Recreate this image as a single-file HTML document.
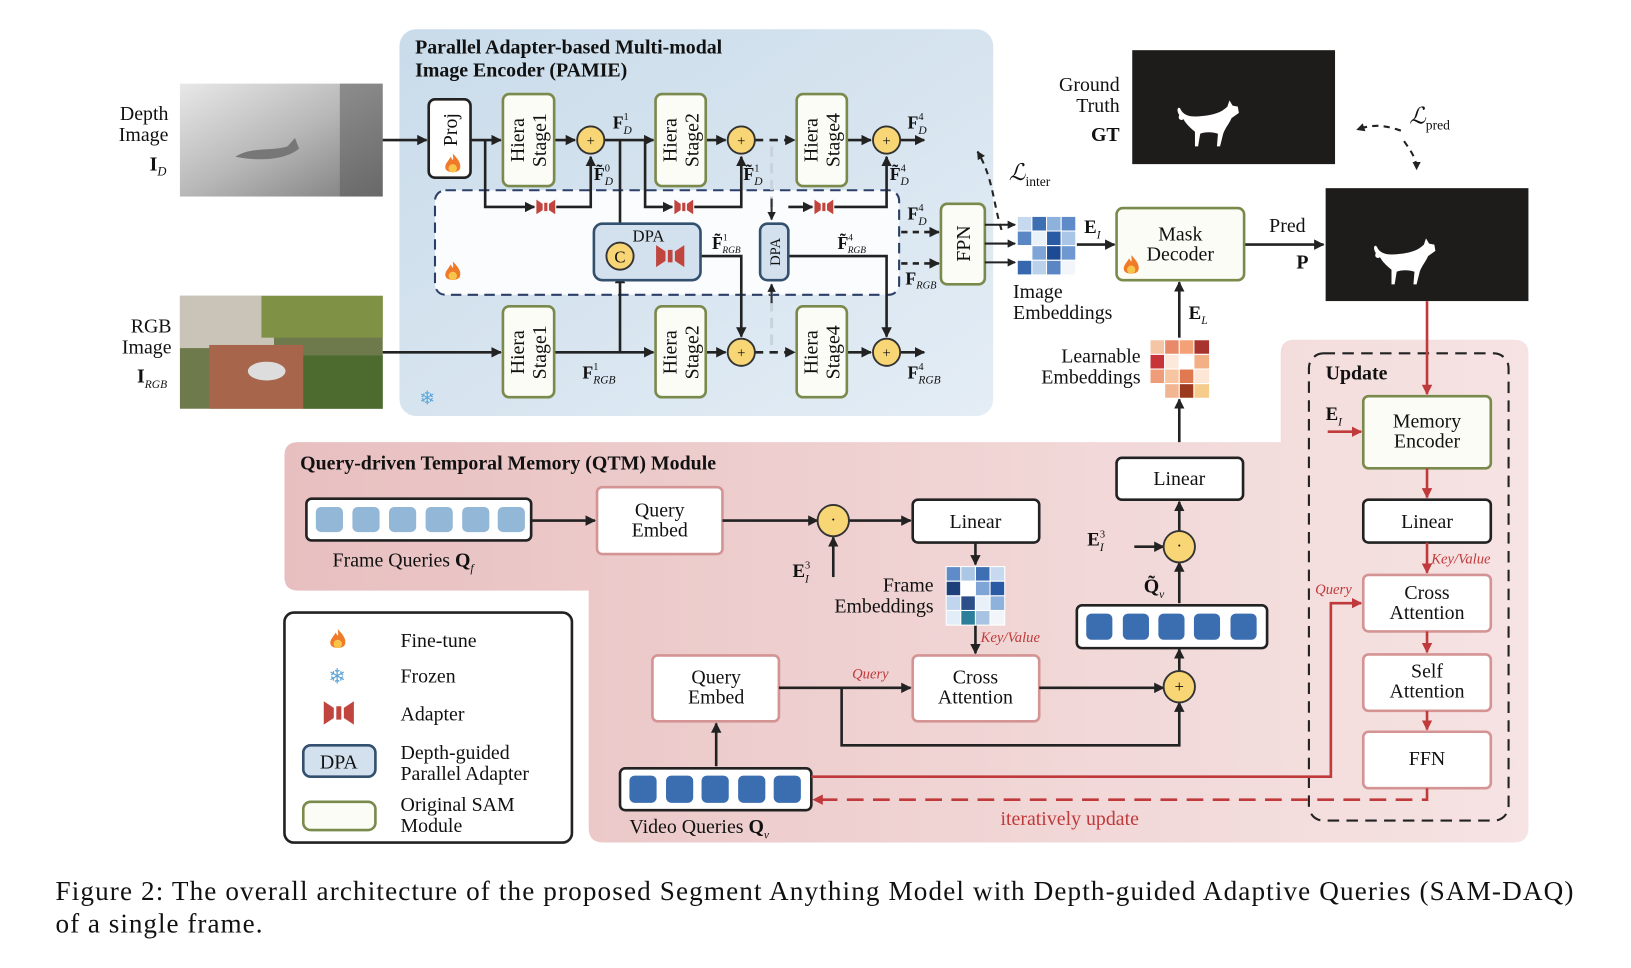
<!DOCTYPE html>
<html><head><meta charset="utf-8"><style>
html,body{margin:0;padding:0;background:#fff;width:1631px;height:968px;overflow:hidden}
svg{display:block}
text{font-family:"Liberation Serif",serif;fill:#111}
.b{font-weight:bold}
</style></head><body>
<svg width="1631" height="968" viewBox="0 0 1560 926" xmlns="http://www.w3.org/2000/svg">
<defs>
<marker id="a" viewBox="0 0 10 10" refX="9" refY="5" markerWidth="4" markerHeight="4" orient="auto"><path d="M0,0L10,5L0,10z" fill="#222"/></marker>
<marker id="r" viewBox="0 0 10 10" refX="9" refY="5" markerWidth="4" markerHeight="4" orient="auto"><path d="M0,0L10,5L0,10z" fill="#c0393b"/></marker>
<linearGradient id="blue" x1="0" y1="0" x2="1" y2="1"><stop offset="0" stop-color="#c9dbea"/><stop offset="1" stop-color="#e4edf5"/></linearGradient>
<linearGradient id="pink" x1="0" y1="0" x2="1" y2="0"><stop offset="0" stop-color="#e8bfc0"/><stop offset="0.6" stop-color="#f1d6d6"/><stop offset="1" stop-color="#f6e3e3"/></linearGradient>
<linearGradient id="dep" x1="0" y1="0" x2="1" y2="1"><stop offset="0" stop-color="#e8e8e8"/><stop offset="0.5" stop-color="#b8b8b8"/><stop offset="1" stop-color="#7a7a7a"/></linearGradient>
<g id="ad"><path d="M-9,-7 L-3,-3 L-3,3 L-9,7Z M9,-7 L3,-3 L3,3 L9,7Z M-1.5,-4h3v8h-3z" fill="#c0453f"/></g>
<g id="fl"><path d="M0,-10 C6,-4 8,0 7,4 C6,9 -6,9 -7,4 C-8,0 -4,-3 -2,-7 C0,-3 1,-2 0,-10Z" fill="#ef7b2a"/><ellipse cx="0" cy="4" rx="4" ry="4" fill="#f9c44a"/></g>
<g id="cat"><path d="M-30,-8 C-34,-14 -30,-18 -28,-12 C-24,-6 -16,-6 -8,-7 C2,-8 10,-10 16,-16 L18,-22 21,-17 26,-16 27,-10 20,-5 C18,0 14,4 12,10 L9,22 6,22 7,10 C2,8 -6,8 -10,10 L-12,22 -15,22 -15,8 C-20,4 -24,0 -26,-4 C-28,-2 -32,-4 -30,-8Z" fill="#fff"/></g>
</defs>

<!-- PAMIE panel -->
<rect x="382" y="28" width="568" height="370" rx="16" fill="url(#blue)"/>
<text class="b" x="397" y="51" font-size="19">Parallel Adapter-based Multi-modal</text>
<text class="b" x="397" y="73" font-size="19">Image Encoder (PAMIE)</text>
<rect x="416" y="182" width="444" height="100" rx="10" fill="#fbfcfe" stroke="#2c3f68" stroke-width="2" stroke-dasharray="10,6"/>

<!-- images -->
<rect x="172" y="80" width="194" height="108" fill="url(#dep)"/>
<rect x="325" y="80" width="41" height="108" fill="#555" opacity="0.5"/>
<path d="M225,150 C240,140 260,145 275,140 L282,132 286,142 C275,152 250,155 225,150Z" fill="#777"/>
<rect x="172" y="283" width="194" height="108" fill="#6f7a4c"/>
<rect x="172" y="283" width="90" height="50" fill="#c9c3b8"/>
<rect x="250" y="283" width="116" height="40" fill="#7f9145"/>
<rect x="200" y="330" width="90" height="61" fill="#a7664b"/>
<rect x="290" y="340" width="76" height="51" fill="#4d6b2f"/>
<ellipse cx="255" cy="355" rx="18" ry="9" fill="#ddd"/>
<text x="161" y="115" font-size="19" text-anchor="end">Depth</text>
<text x="161" y="135" font-size="19" text-anchor="end">Image</text>
<text class="b" x="143" y="163" font-size="19">I<tspan font-size="12" font-style="italic" font-weight="normal" dy="5">D</tspan></text>
<text x="164" y="318" font-size="19" text-anchor="end">RGB</text>
<text x="164" y="338" font-size="19" text-anchor="end">Image</text>
<text class="b" x="131" y="366" font-size="19">I<tspan font-size="11" font-style="italic" font-weight="normal" dy="5">RGB</tspan></text>

<!-- lines PAMIE -->
<g stroke="#222" stroke-width="2.5" fill="none">
<path d="M366,134H408" marker-end="url(#a)"/>
<path d="M450,134H479" marker-end="url(#a)"/>
<path d="M530,134H550" marker-end="url(#a)"/>
<path d="M578,134H625" marker-end="url(#a)"/>
<path d="M675,134H694" marker-end="url(#a)"/>
<path d="M722,134H760" stroke-dasharray="8,6" marker-end="url(#a)"/>
<path d="M810,134H833" marker-end="url(#a)"/>
<path d="M861,134H884" marker-end="url(#a)"/>
<path d="M464,134V198H511" marker-end="url(#a)"/>
<path d="M532,198H565V150" marker-end="url(#a)"/>
<path d="M617,134V198H643" marker-end="url(#a)"/>
<path d="M664,198H709V150" marker-end="url(#a)"/>
<path d="M754,198H777" marker-end="url(#a)"/>
<path d="M798,198H848V150" marker-end="url(#a)"/>
<path d="M593,134V229" marker-end="url(#a)"/>
<path d="M366,337H479" marker-end="url(#a)"/>
<path d="M530,337H625" marker-end="url(#a)"/>
<path d="M593,337V262" marker-end="url(#a)"/>
<path d="M606,245H624" marker-end="url(#a)"/>
<path d="M658,245H709V322" marker-end="url(#a)"/>
<path d="M754,245H848V322" marker-end="url(#a)"/>
<path d="M675,337H694" marker-end="url(#a)"/>
<path d="M722,337H760" stroke-dasharray="8,6" marker-end="url(#a)"/>
<path d="M810,337H833" marker-end="url(#a)"/>
<path d="M861,337H884" marker-end="url(#a)"/>
<path d="M862,222H898" stroke-dasharray="6,5" marker-end="url(#a)"/>
<path d="M862,252H898" stroke-dasharray="6,5" marker-end="url(#a)"/>
</g>
<g stroke="#c9d3dc" stroke-width="3" stroke-dasharray="10,6" fill="none"><path d="M738,140V210"/><path d="M738,272V330"/></g>
<path d="M738,190V210" stroke="#333" stroke-width="2" marker-end="url(#a)"/>
<path d="M738,290V272" stroke="#333" stroke-width="2" marker-end="url(#a)"/>

<!-- boxes PAMIE -->
<rect x="410" y="95" width="40" height="75" rx="6" fill="#fff" stroke="#222" stroke-width="2.5"/>
<text transform="rotate(-90 430 124)" x="430" y="131" font-size="19" text-anchor="middle">Proj</text>
<use href="#fl" x="433" y="157"/>
<g fill="#fbfcf6" stroke="#7a8a4c" stroke-width="2.5">
<rect x="481" y="90" width="49" height="88" rx="6"/><rect x="627" y="90" width="48" height="88" rx="6"/><rect x="762" y="90" width="48" height="88" rx="6"/>
<rect x="481" y="293" width="49" height="87" rx="6"/><rect x="627" y="293" width="48" height="87" rx="6"/><rect x="762" y="293" width="48" height="87" rx="6"/>
<rect x="900" y="195" width="42" height="77" rx="6"/>
</g>
<g font-size="19" text-anchor="middle">
<text transform="rotate(-90 505 134)" x="505" y="130">Hiera<tspan x="505" dy="21">Stage1</tspan></text>
<text transform="rotate(-90 651 134)" x="651" y="130">Hiera<tspan x="651" dy="21">Stage2</tspan></text>
<text transform="rotate(-90 786 134)" x="786" y="130">Hiera<tspan x="786" dy="21">Stage4</tspan></text>
<text transform="rotate(-90 505 337)" x="505" y="333">Hiera<tspan x="505" dy="21">Stage1</tspan></text>
<text transform="rotate(-90 651 337)" x="651" y="333">Hiera<tspan x="651" dy="21">Stage2</tspan></text>
<text transform="rotate(-90 786 337)" x="786" y="333">Hiera<tspan x="786" dy="21">Stage4</tspan></text>
<text transform="rotate(-90 921 233)" x="921" y="240">FPN</text>
</g>
<rect x="568" y="214" width="102" height="54" rx="8" fill="#d3e1ee" stroke="#34506f" stroke-width="2.5"/>
<text x="605" y="231" font-size="16">DPA</text>
<rect x="727" y="214" width="27" height="54" rx="7" fill="#d3e1ee" stroke="#34506f" stroke-width="2.5"/>
<text transform="rotate(-90 741 241)" x="741" y="246" font-size="14" text-anchor="middle">DPA</text>
<use href="#ad" x="522" y="198"/><use href="#ad" x="654" y="198"/><use href="#ad" x="788" y="198"/>
<use href="#ad" transform="translate(641 245) scale(1.5)"/>
<g fill="#f8d675" stroke="#333" stroke-width="1.8">
<circle cx="565" cy="134" r="13"/><circle cx="709" cy="134" r="13"/><circle cx="848" cy="134" r="13"/>
<circle cx="709" cy="337" r="13"/><circle cx="848" cy="337" r="13"/><circle cx="593" cy="245" r="13"/>
</g>
<g font-size="14" text-anchor="middle"><text x="565" y="139">+</text><text x="709" y="139">+</text><text x="848" y="139">+</text><text x="709" y="342">+</text><text x="848" y="342">+</text><text x="593" y="251" font-size="16">C</text></g>
<use href="#fl" x="433" y="260"/>
<text x="401" y="387" font-size="18" style="fill:#5ea6d8">❄</text>
<!-- F labels -->
<g font-size="17" class="b">
<text x="586" y="123">F<tspan font-size="10" dy="-8" font-weight="normal">1</tspan><tspan font-size="11" font-style="italic" font-weight="normal" dx="-5" dy="13">D</tspan></text>
<text x="868" y="123">F<tspan font-size="10" dy="-8" font-weight="normal">4</tspan><tspan font-size="11" font-style="italic" font-weight="normal" dx="-5" dy="13">D</tspan></text>
<text x="568" y="172">F̃<tspan font-size="10" dy="-8" font-weight="normal">0</tspan><tspan font-size="11" font-style="italic" font-weight="normal" dx="-5" dy="13">D</tspan></text>
<text x="711" y="172">F̃<tspan font-size="10" dy="-8" font-weight="normal">1</tspan><tspan font-size="11" font-style="italic" font-weight="normal" dx="-5" dy="13">D</tspan></text>
<text x="851" y="172">F̃<tspan font-size="10" dy="-8" font-weight="normal">4</tspan><tspan font-size="11" font-style="italic" font-weight="normal" dx="-5" dy="13">D</tspan></text>
<text x="868" y="210">F<tspan font-size="10" dy="-8" font-weight="normal">4</tspan><tspan font-size="11" font-style="italic" font-weight="normal" dx="-5" dy="13">D</tspan></text>
<text x="866" y="272">F<tspan font-size="10" font-style="italic" font-weight="normal" dy="4">RGB</tspan></text>
<text x="681" y="238">F̃<tspan font-size="9" dy="-8" font-weight="normal">1</tspan><tspan font-size="9" font-style="italic" font-weight="normal" dx="-5" dy="12">RGB</tspan></text>
<text x="801" y="238">F̃<tspan font-size="9" dy="-8" font-weight="normal">4</tspan><tspan font-size="9" font-style="italic" font-weight="normal" dx="-5" dy="12">RGB</tspan></text>
<text x="557" y="362">F<tspan font-size="10" dy="-8" font-weight="normal">1</tspan><tspan font-size="11" font-style="italic" font-weight="normal" dx="-5" dy="13">RGB</tspan></text>
<text x="868" y="362">F<tspan font-size="10" dy="-8" font-weight="normal">4</tspan><tspan font-size="11" font-style="italic" font-weight="normal" dx="-5" dy="13">RGB</tspan></text>
</g>

<!-- L_inter, GT, Pred -->
<path d="M958,220 C950,195 950,170 935,145" stroke="#222" stroke-width="2" stroke-dasharray="6,5" fill="none" marker-end="url(#a)"/>
<text x="965" y="172" font-size="22" font-style="italic">ℒ<tspan font-size="13" font-style="normal" dy="6">inter</tspan></text>
<rect x="1083" y="48" width="194" height="109" fill="#1e1b1b"/>
<use href="#cat" x="1158" y="118"/>
<text x="1071" y="87" font-size="19" text-anchor="end">Ground</text>
<text x="1071" y="107" font-size="19" text-anchor="end">Truth</text>
<text class="b" x="1071" y="135" font-size="19" text-anchor="end">GT</text>
<rect x="1268" y="180" width="194" height="108" fill="#1e1b1b"/>
<use href="#cat" x="1346" y="250"/>
<path d="M1340,125 C1320,118 1310,120 1298,124" stroke="#222" stroke-width="2" stroke-dasharray="6,5" fill="none" marker-end="url(#a)"/>
<path d="M1343,135 C1350,145 1355,152 1355,162" stroke="#222" stroke-width="2" stroke-dasharray="6,5" fill="none" marker-end="url(#a)"/>
<text x="1348" y="118" font-size="22" font-style="italic">ℒ<tspan font-size="13" font-style="normal" dy="6">pred</tspan></text>

<!-- Image embeddings -->
<g stroke="#fff" stroke-width="1">
<rect x="973" y="207" width="14" height="14" fill="#c6d9ee"/><rect x="987" y="207" width="14" height="14" fill="#3e6fb3"/><rect x="1001" y="207" width="14" height="14" fill="#8db2dc"/><rect x="1015" y="207" width="14" height="14" fill="#5f8cc8"/>
<rect x="973" y="221" width="14" height="14" fill="#5b88c4"/><rect x="987" y="221" width="14" height="14" fill="#e9f1f9"/><rect x="1001" y="221" width="14" height="14" fill="#2a5aa3"/><rect x="1015" y="221" width="14" height="14" fill="#a9c6e6"/>
<rect x="973" y="235" width="14" height="14" fill="#fff"/><rect x="987" y="235" width="14" height="14" fill="#7ea5d6"/><rect x="1001" y="235" width="14" height="14" fill="#1d4a94"/><rect x="1015" y="235" width="14" height="14" fill="#6e98cf"/>
<rect x="973" y="249" width="14" height="14" fill="#3767ad"/><rect x="987" y="249" width="14" height="14" fill="#b9d1eb"/><rect x="1001" y="249" width="14" height="14" fill="#5a86c4"/><rect x="1015" y="249" width="14" height="14" fill="#f2f6fb"/>
</g>
<g stroke="#222" stroke-width="2" fill="none">
<path d="M942,215H971" marker-end="url(#a)"/><path d="M942,233H971" marker-end="url(#a)"/><path d="M942,251H971" marker-end="url(#a)"/>
<path d="M1030,234H1066" stroke-width="2.5" marker-end="url(#a)"/>
<path d="M1190,234H1266" stroke-width="2.5" marker-end="url(#a)"/>
<path d="M1128,323V270" stroke-width="2.5" marker-end="url(#a)"/>
<path d="M1128,437V382" stroke-width="2.5" marker-end="url(#a)"/>
</g>
<text x="969" y="285" font-size="19">Image</text>
<text x="969" y="305" font-size="19">Embeddings</text>
<text class="b" x="1037" y="223" font-size="18">E<tspan font-size="11" font-style="italic" font-weight="normal" dy="5">I</tspan></text>
<rect x="1068" y="199" width="122" height="69" rx="6" fill="#fbfcf6" stroke="#7a8a4c" stroke-width="2.5"/>
<text x="1129" y="230" font-size="19" text-anchor="middle">Mask</text>
<text x="1129" y="249" font-size="19" text-anchor="middle">Decoder</text>
<use href="#fl" x="1082" y="254"/>
<text x="1214" y="222" font-size="19">Pred</text>
<text class="b" x="1240" y="257" font-size="19">P</text>

<!-- QTM pink region -->
<path d="M285,423 H1225 V338 Q1225,325 1238,325 H1448 Q1462,325 1462,338 V792 Q1462,806 1448,806 H577 Q563,806 563,792 V565 H285 Q272,565 272,552 V436 Q272,423 285,423Z" fill="url(#pink)"/>
<text class="b" x="287" y="449" font-size="19">Query-driven Temporal Memory (QTM) Module</text>
<text class="b" x="1137" y="305" font-size="18">E<tspan font-size="11" font-style="italic" font-weight="normal" dy="5">L</tspan></text>
<text x="1091" y="347" font-size="19" text-anchor="end">Learnable</text>
<text x="1091" y="367" font-size="19" text-anchor="end">Embeddings</text>
<g stroke="#fff" stroke-width="1">
<rect x="1100" y="325" width="14" height="14" fill="#f4c6a5"/><rect x="1114" y="325" width="14" height="14" fill="#e88a6a"/><rect x="1128" y="325" width="14" height="14" fill="#f2a276"/><rect x="1142" y="325" width="15" height="14" fill="#a8322e"/>
<rect x="1100" y="339" width="14" height="14" fill="#c8333a"/><rect x="1114" y="339" width="14" height="14" fill="#fde9dc"/><rect x="1128" y="339" width="14" height="14" fill="#fff"/><rect x="1142" y="339" width="15" height="14" fill="#f3b087"/>
<rect x="1100" y="353" width="14" height="14" fill="#ef9d79"/><rect x="1114" y="353" width="14" height="14" fill="#f7c6a0"/><rect x="1128" y="353" width="14" height="14" fill="#e07850"/><rect x="1142" y="353" width="15" height="14" fill="#fde6d6"/>
<rect x="1100" y="367" width="14" height="14" fill="#fff"/><rect x="1114" y="367" width="14" height="14" fill="#f2b592"/><rect x="1128" y="367" width="14" height="14" fill="#9b3a1c"/><rect x="1142" y="367" width="15" height="14" fill="#f6cc8d"/>
</g>

<!-- frame queries row -->
<rect x="293" y="477" width="215" height="40" rx="5" fill="#fff" stroke="#222" stroke-width="2.5"/>
<g fill="#93b7d6"><rect x="302" y="485" width="26" height="24" rx="5"/><rect x="337" y="485" width="26" height="24" rx="5"/><rect x="372" y="485" width="26" height="24" rx="5"/><rect x="407" y="485" width="26" height="24" rx="5"/><rect x="442" y="485" width="26" height="24" rx="5"/><rect x="476" y="485" width="26" height="24" rx="5"/></g>
<text x="318" y="542" font-size="19">Frame Queries <tspan class="b">Q</tspan><tspan font-size="11" font-style="italic" dy="5">f</tspan></text>
<g fill="#fff" stroke="#d49494" stroke-width="2.5">
<rect x="571" y="466" width="120" height="64" rx="5"/>
<rect x="624" y="627" width="121" height="63" rx="5"/>
<rect x="873" y="627" width="121" height="63" rx="5"/>
<rect x="1304" y="550" width="122" height="54" rx="5"/>
<rect x="1304" y="626" width="122" height="54" rx="5"/>
<rect x="1304" y="700" width="122" height="54" rx="5"/>
</g>
<g fill="#fff" stroke="#222" stroke-width="2.5">
<rect x="873" y="478" width="121" height="41" rx="5"/>
<rect x="1068" y="438" width="121" height="40" rx="5"/>
<rect x="1304" y="478" width="122" height="41" rx="5"/>
</g>
<rect x="1304" y="379" width="122" height="69" rx="5" fill="#fbfcf6" stroke="#7a8a4c" stroke-width="2.5"/>
<g font-size="19" text-anchor="middle">
<text x="631" y="494">Query</text><text x="631" y="513">Embed</text>
<text x="685" y="654">Query</text><text x="685" y="673">Embed</text>
<text x="933" y="654">Cross</text><text x="933" y="673">Attention</text>
<text x="933" y="505">Linear</text><text x="1128" y="464">Linear</text><text x="1365" y="505">Linear</text>
<text x="1365" y="573">Cross</text><text x="1365" y="592">Attention</text>
<text x="1365" y="648">Self</text><text x="1365" y="667">Attention</text>
<text x="1365" y="732">FFN</text>
<text x="1365" y="409">Memory</text><text x="1365" y="428">Encoder</text>
</g>
<g stroke="#222" stroke-width="2.5" fill="none">
<path d="M508,498H569" marker-end="url(#a)"/>
<path d="M691,498H782" marker-end="url(#a)"/>
<path d="M810,498H871" marker-end="url(#a)"/>
<path d="M797,552V514" marker-end="url(#a)"/>
<path d="M933,519V540" marker-end="url(#a)"/>
<path d="M933,597V625" marker-end="url(#a)"/>
<path d="M745,658H871" marker-end="url(#a)"/>
<path d="M994,658H1113" marker-end="url(#a)"/>
<path d="M805,658V713H1128V672" marker-end="url(#a)"/>
<path d="M685,733V692" marker-end="url(#a)"/>
<path d="M1128,577V538" marker-end="url(#a)"/>
<path d="M1128,509V480" marker-end="url(#a)"/>
<path d="M1128,642V621" marker-end="url(#a)"/>
<path d="M1085,523H1113" marker-end="url(#a)"/>
</g>
<g fill="#f8d675" stroke="#333" stroke-width="1.8"><circle cx="797" cy="498" r="15"/><circle cx="1128" cy="523" r="15"/><circle cx="1128" cy="657" r="15"/></g>
<g font-size="16" text-anchor="middle"><text x="797" y="502">·</text><text x="1128" y="527">·</text><text x="1128" y="662">+</text></g>
<text class="b" x="758" y="552" font-size="18">E<tspan font-size="10" font-weight="normal" dy="-8">3</tspan><tspan font-size="11" font-style="italic" font-weight="normal" dx="-5" dy="13">I</tspan></text>
<text class="b" x="1040" y="522" font-size="18">E<tspan font-size="10" font-weight="normal" dy="-8">3</tspan><tspan font-size="11" font-style="italic" font-weight="normal" dx="-5" dy="13">I</tspan></text>
<text class="b" x="1094" y="567" font-size="19">Q̃<tspan font-size="11" font-style="italic" font-weight="normal" dy="5">v</tspan></text>
<text x="893" y="566" font-size="19" text-anchor="end">Frame</text>
<text x="893" y="586" font-size="19" text-anchor="end">Embeddings</text>
<g stroke="#fff" stroke-width="1">
<rect x="905" y="542" width="14" height="14" fill="#5f8cc8"/><rect x="919" y="542" width="14" height="14" fill="#aac7e6"/><rect x="933" y="542" width="14" height="14" fill="#3e6fb3"/><rect x="947" y="542" width="14" height="14" fill="#c6d9ee"/>
<rect x="905" y="556" width="14" height="14" fill="#1d3f7a"/><rect x="919" y="556" width="14" height="14" fill="#fff"/><rect x="933" y="556" width="14" height="14" fill="#7ea5d6"/><rect x="947" y="556" width="14" height="14" fill="#2a5aa3"/>
<rect x="905" y="570" width="14" height="14" fill="#c0d6ee"/><rect x="919" y="570" width="14" height="14" fill="#2c4f8a"/><rect x="933" y="570" width="14" height="14" fill="#e8f0f8"/><rect x="947" y="570" width="14" height="14" fill="#8db2dc"/>
<rect x="905" y="584" width="14" height="14" fill="#e3edf7"/><rect x="919" y="584" width="14" height="14" fill="#2b7f9a"/><rect x="933" y="584" width="14" height="14" fill="#a7c5e3"/><rect x="947" y="584" width="14" height="14" fill="#f2f6fb"/>
</g>
<text x="938" y="614" font-size="14" font-style="italic" style="fill:#c0393b">Key/Value</text>
<text x="815" y="649" font-size="14" font-style="italic" style="fill:#c0393b">Query</text>

<!-- Q~v bar -->
<rect x="1030" y="579" width="182" height="41" rx="5" fill="#fff" stroke="#222" stroke-width="2.5"/>
<g fill="#3a6eb0"><rect x="1039" y="587" width="25" height="25" rx="5"/><rect x="1074" y="587" width="25" height="25" rx="5"/><rect x="1108" y="587" width="25" height="25" rx="5"/><rect x="1142" y="587" width="25" height="25" rx="5"/><rect x="1177" y="587" width="25" height="25" rx="5"/></g>
<!-- video queries -->
<rect x="593" y="735" width="183" height="40" rx="5" fill="#fff" stroke="#222" stroke-width="2.5"/>
<g fill="#3a6eb0"><rect x="602" y="742" width="26" height="26" rx="5"/><rect x="637" y="742" width="26" height="26" rx="5"/><rect x="671" y="742" width="26" height="26" rx="5"/><rect x="706" y="742" width="26" height="26" rx="5"/><rect x="740" y="742" width="26" height="26" rx="5"/></g>
<text x="602" y="797" font-size="19">Video Queries <tspan class="b">Q</tspan><tspan font-size="11" font-style="italic" dy="5">v</tspan></text>

<!-- update -->
<rect x="1252" y="338" width="191" height="447" rx="14" fill="none" stroke="#222" stroke-width="2" stroke-dasharray="11,7"/>
<text class="b" x="1268" y="363" font-size="19">Update</text>
<text class="b" x="1268" y="402" font-size="18">E<tspan font-size="11" font-style="italic" font-weight="normal" dy="5">I</tspan></text>
<g stroke="#c0393b" stroke-width="2.5" fill="none">
<path d="M1365,288V377" marker-end="url(#r)"/>
<path d="M1270,413H1302" marker-end="url(#r)"/>
<path d="M1365,448V476" marker-end="url(#r)"/>
<path d="M1365,519V548" marker-end="url(#r)"/>
<path d="M1365,604V624" marker-end="url(#r)"/>
<path d="M1365,680V698" marker-end="url(#r)"/>
<path d="M776,743H1273V577H1302" marker-end="url(#r)"/>
<path d="M1365,754V765H778" stroke-dasharray="16,9" marker-end="url(#r)"/>
</g>
<text x="1369" y="539" font-size="14" font-style="italic" style="fill:#c0393b">Key/Value</text>
<text x="1258" y="568" font-size="14" font-style="italic" style="fill:#c0393b">Query</text>
<text x="957" y="789" font-size="19" style="fill:#c0393b">iteratively update</text>

<!-- legend -->
<rect x="272" y="586" width="275" height="220" rx="9" fill="#fff" stroke="#222" stroke-width="2.5"/>
<use href="#fl" x="323" y="612"/>
<text x="314" y="654" font-size="20" style="fill:#5ea6d8">❄</text>
<use href="#ad" transform="translate(324 682) scale(1.6)"/>
<rect x="290" y="713" width="69" height="30" rx="7" fill="#d3e1ee" stroke="#34506f" stroke-width="2.5"/>
<text x="324" y="735" font-size="19" text-anchor="middle">DPA</text>
<rect x="290" y="767" width="69" height="27" rx="7" fill="#fbfcf6" stroke="#7a8a4c" stroke-width="2.5"/>
<g font-size="19"><text x="383" y="619">Fine-tune</text><text x="383" y="653">Frozen</text><text x="383" y="689">Adapter</text>
<text x="383" y="726">Depth-guided</text><text x="383" y="746">Parallel Adapter</text>
<text x="383" y="776">Original SAM</text><text x="383" y="796">Module</text></g>

<!-- caption -->
<text x="53" y="861" font-size="26" textLength="1452" lengthAdjust="spacing">Figure 2: The overall architecture of the proposed Segment Anything Model with Depth-guided Adaptive Queries (SAM-DAQ)</text>
<text x="53" y="892" font-size="26" textLength="198" lengthAdjust="spacing">of a single frame.</text>
</svg>
</body></html>
